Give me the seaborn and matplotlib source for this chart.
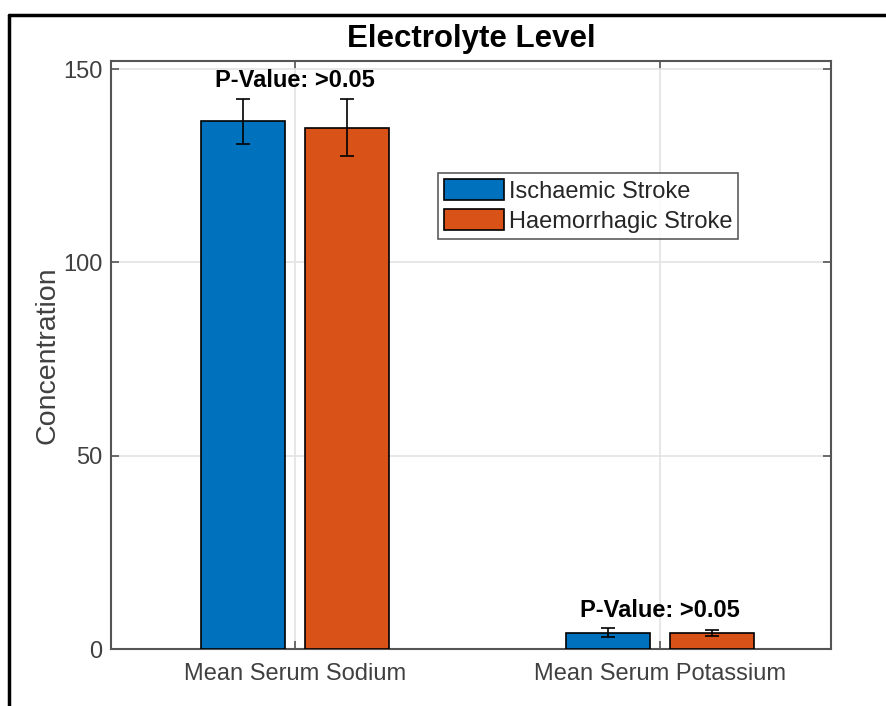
import matplotlib
matplotlib.use("Agg")
import matplotlib.pyplot as plt
import seaborn as sns
import pandas as pd
from matplotlib.lines import Line2D
from matplotlib.patches import Patch

categories = ["Mean Serum Sodium", "Mean Serum Potassium"]
groups = ["Ischaemic Stroke", "Haemorrhagic Stroke"]
ischaemic_mean = [136.5, 4.2]
ischaemic_err = [5.8, 1.2]
haemorrhagic_mean = [134.8, 4.1]
haemorrhagic_err = [7.4, 0.7]
pvalue_labels = ["P-Value: >0.05", "P-Value: >0.05"]
pvalue_y = [147.0, 10.0]
yticks = [0, 50, 100, 150]
colors = ["#0072BD", "#D95319"]

df = pd.DataFrame({
    "category": categories * 2,
    "group": [groups[0]] * 2 + [groups[1]] * 2,
    "value": ischaemic_mean + haemorrhagic_mean,
    "err": ischaemic_err + haemorrhagic_err,
})

sns.set_style("white")
plt.rcParams["font.family"] = ["Liberation Sans", "DejaVu Sans"]

fig = plt.figure(figsize=(8.87, 7.06), dpi=100)
ax = fig.add_axes([0.1251, 0.0807, 0.8117, 0.8329])

sns.barplot(data=df, x="category", y="value", hue="group", order=categories,
            hue_order=groups, palette=colors, width=0.57, gap=0.19,
            edgecolor="black", linewidth=1.2, errorbar=None, ax=ax,
            saturation=1, zorder=3)

# error bars from library-placed bars
for container, grp in zip(ax.containers, groups):
    sub = df[df["group"] == grp].set_index("category").loc[categories]
    xs = [p.get_x() + p.get_width() / 2 for p in container.patches]
    ax.errorbar(xs, sub["value"], yerr=sub["err"], fmt="none", ecolor="black",
                elinewidth=1.2, capsize=5, capthick=1.2, zorder=4)

for i, (lab, yv) in enumerate(zip(pvalue_labels, pvalue_y)):
    ax.text(i, yv, lab, ha="center", va="center", fontsize=17,
            fontweight="bold", color="black", zorder=5)

ax.set_xlim(-0.504, 1.468)
ax.set_ylim(0, 152.07)
ax.set_yticks(yticks)
ax.set_xlabel("")
ax.set_ylabel("Concentration", fontsize=20.5, color="#404040", labelpad=2)
ax.set_title("Electrolyte Level", fontsize=22.5, fontweight="bold", pad=10,
             color="black")

ax.grid(True, color="#e3e3e3", linewidth=1.2, zorder=0)
ax.set_axisbelow(True)
for s in ax.spines.values():
    s.set_visible(True)
    s.set_color("#555555")
    s.set_linewidth(1.5)
ax.tick_params(axis="both", direction="in", length=6, width=1.2,
               colors="#555555", labelcolor="#404040", labelsize=17,
               top=True, right=True, bottom=True, left=True)
ax.tick_params(axis="x", pad=10)
ax.tick_params(axis="y", pad=6)

handles = [Patch(facecolor=colors[0], edgecolor="black", linewidth=1.2),
           Patch(facecolor=colors[1], edgecolor="black", linewidth=1.2)]
leg = ax.legend(handles, groups, loc="upper left", bbox_to_anchor=(0.454, 0.8095),
                fontsize=17, frameon=True, fancybox=False, edgecolor="#333333",
                handlelength=2.55, handleheight=1.0, handletextpad=0.2,
                labelspacing=0.27, borderpad=0.25, borderaxespad=0)
leg.get_frame().set_linewidth(1.2)

# outer frame lines
fig.add_artist(Line2D([9.5 / 887, 1.0], [1 - 15 / 706, 1 - 15 / 706],
                      transform=fig.transFigure, color="black", linewidth=2.5))
fig.add_artist(Line2D([9.5 / 887, 9.5 / 887], [0, 1 - 15 / 706],
                      transform=fig.transFigure, color="black", linewidth=2.5))

fig.savefig("out.png", dpi=100, facecolor="white")
